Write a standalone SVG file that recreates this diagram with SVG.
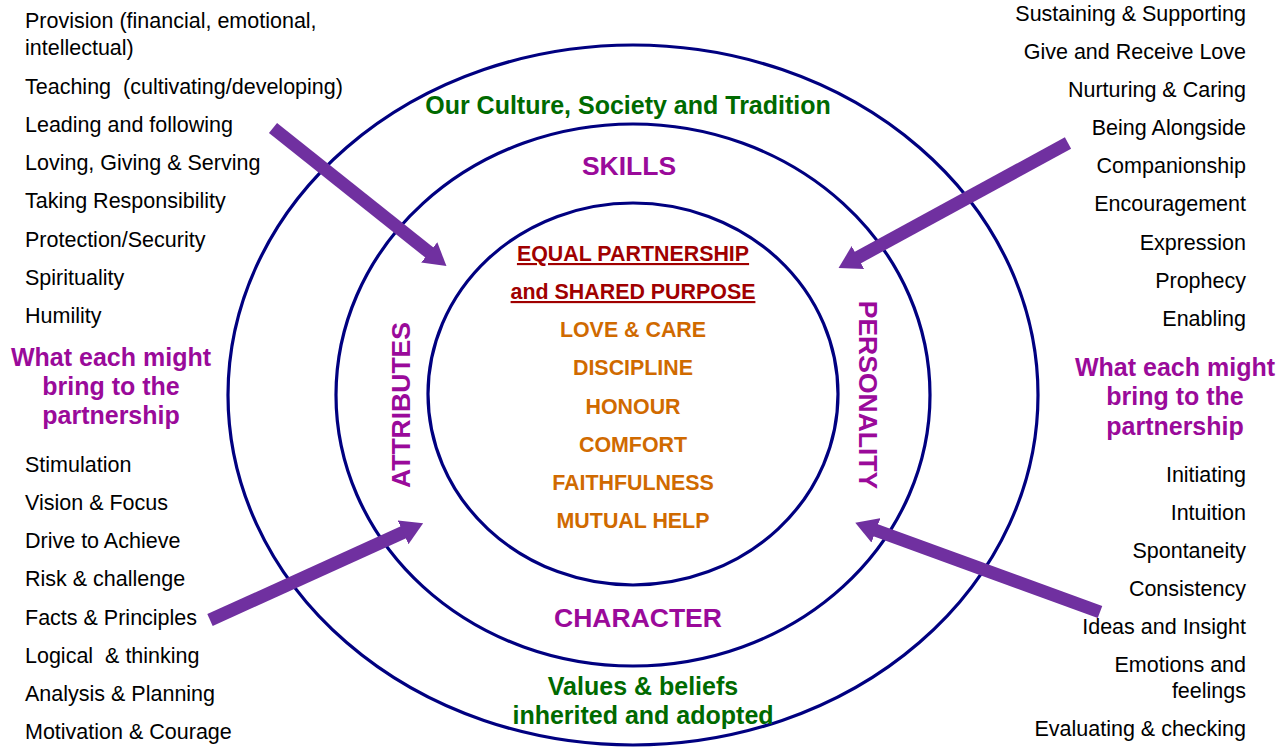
<svg xmlns="http://www.w3.org/2000/svg" width="1288" height="748" viewBox="0 0 1288 748">
<style>
text{font-family:"Liberation Sans",Arial,sans-serif;white-space:pre}
.t{font-size:21.5px;fill:#000}
.r{text-anchor:end}
.pb{font-size:25px;font-weight:bold;fill:#9A0A9A;text-anchor:middle}
.ring{font-size:26.5px;font-weight:bold;fill:#9A0A9A;text-anchor:middle}
.g{font-size:25px;font-weight:bold;fill:#006A00;text-anchor:middle}
.red{font-size:21.4px;font-weight:bold;fill:#A00000;text-anchor:middle;text-decoration:underline}
.o{font-size:21.4px;font-weight:bold;fill:#D06A00;text-anchor:middle}
.ell{fill:none;stroke:#000080;stroke-width:3.2}
.arr{stroke:#7030A0;stroke-width:13;fill:none;marker-end:url(#ah)}
</style>
<defs>
<marker id="ah" markerUnits="userSpaceOnUse" markerWidth="22" markerHeight="26" refX="1" refY="13" orient="auto" viewBox="0 0 22 26">
<path d="M0,0 L22,13 L0,26 z" fill="#7030A0"/>
</marker>
</defs>
<rect width="1288" height="748" fill="#fff"/>
<g id="rings">
<ellipse id="outer" class="ell" cx="633" cy="395" rx="405" ry="350"/>
<ellipse id="middle" class="ell" cx="633" cy="395" rx="297" ry="271"/>
<ellipse id="inner" class="ell" cx="633" cy="394" rx="205" ry="191"/>
</g>
<g id="connectors">
<line class="arr" x1="273" y1="128" x2="430" y2="253"/>
<line class="arr" x1="1068" y1="143" x2="857" y2="258"/>
<line class="arr" x1="210" y1="620" x2="404" y2="532"/>
<line class="arr" x1="1100" y1="612" x2="875" y2="530"/>
</g>
<g id="left-top">
<text class="t" x="25" y="28">Provision (financial, emotional,</text>
<text class="t" x="25" y="55">intellectual)</text>
<text class="t" x="25" y="94">Teaching  (cultivating/developing)</text>
<text class="t" x="25" y="132">Leading and following</text>
<text class="t" x="25" y="170">Loving, Giving &amp; Serving</text>
<text class="t" x="25" y="208">Taking Responsibility</text>
<text class="t" x="25" y="247">Protection/Security</text>
<text class="t" x="25" y="285">Spirituality</text>
<text class="t" x="25" y="323">Humility</text>
</g>
<g id="left-label">
<text class="pb" x="111" y="366">What each might</text>
<text class="pb" x="111" y="395">bring to the</text>
<text class="pb" x="111" y="424">partnership</text>
</g>
<g id="left-bottom">
<text class="t" x="25" y="472">Stimulation</text>
<text class="t" x="25" y="510">Vision &amp; Focus</text>
<text class="t" x="25" y="548">Drive to Achieve</text>
<text class="t" x="25" y="586">Risk &amp; challenge</text>
<text class="t" x="25" y="625">Facts &amp; Principles</text>
<text class="t" x="25" y="663">Logical  &amp; thinking</text>
<text class="t" x="25" y="701">Analysis &amp; Planning</text>
<text class="t" x="25" y="739">Motivation &amp; Courage</text>
</g>
<g id="right-top">
<text class="t r" x="1246" y="21">Sustaining &amp; Supporting</text>
<text class="t r" x="1246" y="59">Give and Receive Love</text>
<text class="t r" x="1246" y="97">Nurturing &amp; Caring</text>
<text class="t r" x="1246" y="135">Being Alongside</text>
<text class="t r" x="1246" y="173">Companionship</text>
<text class="t r" x="1246" y="211">Encouragement</text>
<text class="t r" x="1246" y="250">Expression</text>
<text class="t r" x="1246" y="288">Prophecy</text>
<text class="t r" x="1246" y="326">Enabling</text>
</g>
<g id="right-label">
<text class="pb" x="1175" y="376">What each might</text>
<text class="pb" x="1175" y="405">bring to the</text>
<text class="pb" x="1175" y="435">partnership</text>
</g>
<g id="right-bottom">
<text class="t r" x="1246" y="482">Initiating</text>
<text class="t r" x="1246" y="520">Intuition</text>
<text class="t r" x="1246" y="558">Spontaneity</text>
<text class="t r" x="1246" y="596">Consistency</text>
<text class="t r" x="1246" y="634">Ideas and Insight</text>
<text class="t r" x="1246" y="672">Emotions and</text>
<text class="t r" x="1246" y="698">feelings</text>
<text class="t r" x="1246" y="736">Evaluating &amp; checking</text>
</g>
<g id="outer-labels">
<text class="g" x="628" y="114">Our Culture, Society and Tradition</text>
<text class="g" x="643" y="695">Values &amp; beliefs</text>
<text class="g" x="643" y="724">inherited and adopted</text>
</g>
<g id="middle-labels">
<text class="ring" x="629" y="175">SKILLS</text>
<text class="ring" x="638" y="627">CHARACTER</text>
<text class="ring" transform="translate(410,405) rotate(-90)">ATTRIBUTES</text>
<text class="ring" transform="translate(859,395) rotate(90)">PERSONALITY</text>
</g>
<g id="center">
<text class="red" x="633" y="261">EQUAL PARTNERSHIP</text>
<text class="red" x="633" y="299">and SHARED PURPOSE</text>
<text class="o" x="633" y="337">LOVE &amp; CARE</text>
<text class="o" x="633" y="375">DISCIPLINE</text>
<text class="o" x="633" y="414">HONOUR</text>
<text class="o" x="633" y="452">COMFORT</text>
<text class="o" x="633" y="490">FAITHFULNESS</text>
<text class="o" x="633" y="528">MUTUAL HELP</text>
</g>
</svg>
